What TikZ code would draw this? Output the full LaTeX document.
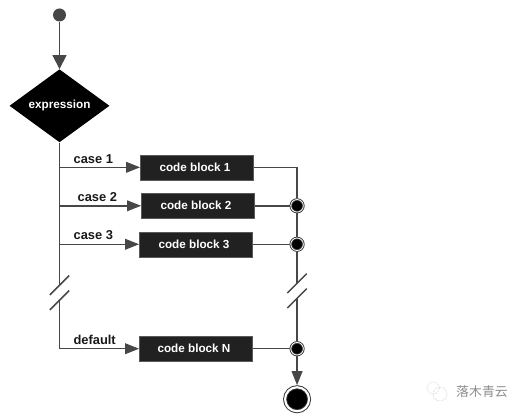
\documentclass[tikz,border=0pt]{standalone}
\usepackage{fontspec}
\setmainfont{Liberation Sans}
\newfontfamily\cjkfont{Noto Sans CJK SC}
\usetikzlibrary{shapes.geometric, arrows.meta, positioning, calc}

\begin{document}
\begin{tikzpicture}[
  codeblock/.style={rectangle, draw=gray!70!black, fill=black!87, text=white,
                    minimum width=3.4cm, minimum height=0.75cm, inner sep=0pt,
                    execute at end node={\hspace{3.4pt}},
                    font=\bfseries\fontsize{10}{12}\selectfont},
  decision/.style={diamond, fill=black, text=white, aspect=1.37, inner sep=0pt,
                   minimum width=3cm, minimum height=2.19cm,
                   font=\bfseries\fontsize{10}{12}\selectfont},
  junction/.style={circle, draw=black!80, fill=black, double=white, double distance=0.7pt,
                   line width=0.75pt, minimum size=0.376cm, inner sep=0pt, outer sep=0.037cm},
  finish/.style={circle, draw=black!80, fill=black, double=white, double distance=1.8pt,
                 line width=0.8pt, minimum size=0.72cm, inner sep=0pt, outer sep=0.06cm},
  line/.style={draw=black!72, line width=1.3pt},
  arr/.style={-{Triangle[length=0.42cm, width=0.32cm]}, line},
  casetext/.style={font=\bfseries\fontsize{11}{13}\selectfont, text=black!90, inner sep=0pt}
]
  \useasboundingbox (0,0) rectangle (15.72,-12.45);

  \node[circle, fill=black!72, minimum size=0.39cm, inner sep=0pt] (start) at (1.785,-0.45) {};
  \node[decision, below=1.42cm of start]  (expr)  {expression};

  \node[codeblock] at (5.91,-5.02)                     (code1) {code block 1};
  \node[codeblock, below=0.39cm of code1, xshift=0.03cm] (code2) {code block 2};
  \node[codeblock, below=0.39cm of code2, xshift=-0.06cm] (code3) {code block 3};
  \node[codeblock, below=2.37cm of code3]              (codeN) {code block N};

  \node[junction, right=1.04cm of code2] (join2) {};
  \node[junction] at (join2 |- code3)    (join3) {};
  \node[junction] at (join2 |- codeN)    (joinN) {};
  \node[finish, below=0.87cm of joinN]   (stop)  {};

  \node[casetext] at (2.8,-4.77)  (case1) {case 1};
  \node[casetext] at (2.92,-5.91) (case2) {case 2};
  \node[casetext] at (2.8,-7.05)  (case3) {case 3};
  \node[casetext] at (2.84,-10.2) (casedef) {default};

  \coordinate (cutA) at ($(expr.south)+(0,-4.28)$);
  \coordinate (cutB) at ($(cutA)+(0,-0.45)$);
  \coordinate (cutC) at (join2 |- 0,-8.5);
  \coordinate (cutD) at ($(cutC)+(0,-0.45)$);

  \draw[arr, -{Triangle[length=0.42cm, width=0.42cm]}] (start) -- (expr.north);

  \draw[line] (expr.south) -- (cutA);
  \draw[arr] (expr.south |- code1) -- (code1);
  \draw[arr] (expr.south |- code2) -- (code2);
  \draw[arr] (expr.south |- code3) -- (code3);
  \draw[arr] (cutB) |- (codeN);

  % Break marks on both rails
  \draw[line] (cutA) ++(-0.29,-0.29) -- ++(0.58,0.58);
  \draw[line] (cutB) ++(-0.29,-0.29) -- ++(0.58,0.58);
  \draw[line] (cutC) ++(-0.29,-0.29) -- ++(0.58,0.58);
  \draw[line] (cutD) ++(-0.29,-0.29) -- ++(0.58,0.58);

  \draw[line] (code1) -| (join2);
  \draw[line] (code2) -- (join2);
  \draw[line] (code3) -- (join3);
  \draw[line] (codeN) -- (joinN);
  \draw[line] (join2) -- (join3);
  \draw[line] (join3) -- (cutC);
  \draw[line] (cutD) -- (joinN);
  \draw[arr] (joinN) -- (stop);

  % Faint mark in the corner
  \node[font=\cjkfont\fontsize{11}{13}\selectfont, text=black!45, inner sep=0pt] at (14.46,-11.76) (brand) {落木青云};
  \draw[black!25, densely dotted, line width=0.5pt] (13,-11.64) circle (0.18);
  \draw[black!25, densely dotted, line width=0.5pt] (13.2,-11.82) circle (0.21);
\end{tikzpicture}
\end{document}
